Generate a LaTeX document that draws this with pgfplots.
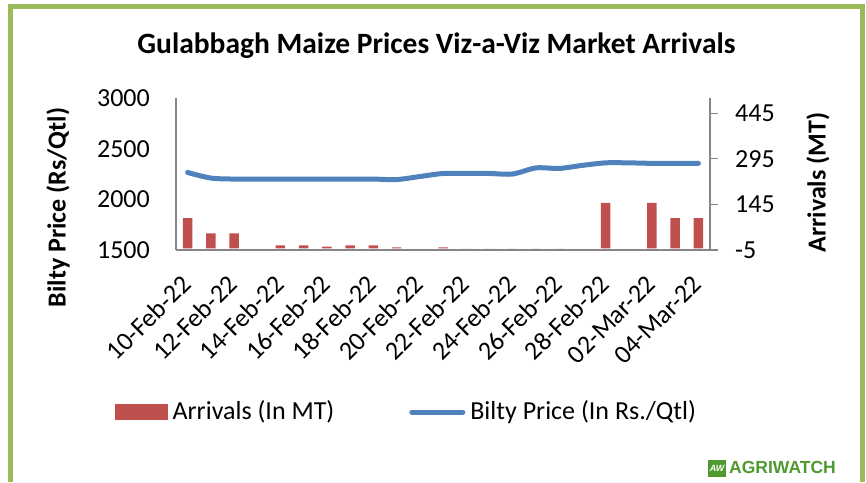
\documentclass[border=0pt]{standalone}
\usepackage{fontspec}
\setmainfont{Carlito}
\newfontfamily\logofont{Liberation Sans}
\usepackage{pgfplots}
\usepackage{pgfplotstable}
\pgfplotsset{compat=1.18}
\definecolor{barred}{HTML}{C0504D}
\definecolor{lineblue}{HTML}{4F81BD}
\definecolor{axisgray}{HTML}{868686}
\definecolor{framegreen}{HTML}{9BBB59}
\definecolor{logogreen}{HTML}{4E9A2E}
\pgfplotstableread{
idx arr
0 100
1 50
2 50
4 10
5 10
6 6
7 10
8 10
9 4
11 4
18 150
20 150
21 100
22 100
}\arrivals
\pgfplotstableread{
idx arr
12 1.5
13 1.5
14 1.5
15 1.5
16 1.5
}\faint
\pgfplotstableread{
idx price
0 2265
1 2210
2 2200
3 2200
4 2200
5 2200
6 2200
7 2200
8 2200
9 2195
10 2225
11 2255
12 2255
13 2255
14 2250
15 2310
16 2305
17 2335
18 2360
19 2360
20 2355
21 2355
22 2355
}\prices
\newcommand\xlabfont{\fontsize{26}{30}\selectfont}
\begin{document}
\begin{tikzpicture}[x=1pt,y=1pt]
\path[use as bounding box] (0,0) rectangle (866,482);
\draw[framegreen, line width=5pt] (10.5,0) -- (10.5,475) -- (862.5,475) -- (862.5,0);
% arrivals (right axis)
\begin{axis}[
  scale only axis, width=534pt, height=152pt,
  at={(176pt,232pt)}, anchor=south west,
  xmin=-0.5, xmax=22.5, ymin=-5, ymax=495,
  axis x line=none, axis y line*=right,
  axis line style={draw=axisgray, line width=1.2pt, -},
  ytick={-5,145,295,445},
  yticklabels={-5,145,295,445},
  tick align=outside, major tick length=8pt,
  ytick style={draw=axisgray, line width=1.2pt},
  yticklabel style={font=\fontsize{26}{30}\selectfont, inner sep=0pt, anchor=west, xshift=17pt},
  /pgf/number format/assume math mode=true,
]
\addplot[ybar, bar shift=0pt, fill=barred, draw=none, bar width=9.5pt] table[x=idx,y=arr]{\arrivals};
\addplot[ybar, bar shift=0pt, fill=barred!25, draw=none, bar width=9.5pt] table[x=idx,y=arr]{\faint};
\end{axis}
% price (left axis)
\begin{axis}[
  scale only axis, width=534pt, height=152pt,
  at={(176pt,232pt)}, anchor=south west,
  xmin=-0.5, xmax=22.5, ymin=1500, ymax=3000,
  axis x line*=bottom, axis y line*=left,
  axis line style={draw=axisgray, line width=1.2pt, -},
  ytick={1500,2000,2500,3000},
  yticklabels={1500,2000,2500,3000},
  xtick={0,2,...,22},
  xticklabels={10-Feb-22,12-Feb-22,14-Feb-22,16-Feb-22,18-Feb-22,20-Feb-22,22-Feb-22,24-Feb-22,26-Feb-22,28-Feb-22,02-Mar-22,04-Mar-22},
  major tick length=0pt,
  tick style={draw=none},
  yticklabel style={font=\fontsize{26}{30}\selectfont, inner sep=0pt, anchor=east, xshift=-26pt},
  every x tick label/.append style={font=\xlabfont, inner sep=0pt, xshift=5pt, yshift=-36pt, rotate=45, anchor=base east},
  /pgf/number format/assume math mode=true,
  legend columns=2,
  legend cell align=left,
  legend style={at={(axis description cs:-0.1142,-1.060)}, anchor=west, draw=none, fill=none, inner sep=0pt,
    font=\fontsize{26}{30}\selectfont, nodes={inner sep=0pt},
    /tikz/every odd column/.append style={column sep=5pt},
    /tikz/every even column/.append style={column sep=75pt}},
]
\addlegendimage{legend image code/.code={\fill[barred] (0pt,-8pt) rectangle (52pt,7pt);}}
\addlegendentry{Arrivals (In MT)}
\addplot[lineblue, line width=5pt, smooth, line cap=round,
  legend image code/.code={\path[draw=none,fill=none] (0pt,-8pt) rectangle (56pt,7pt); \draw[lineblue, line width=5pt, line cap=round] (2.5pt,-1pt) -- (53.5pt,-1pt);}]
  table[x=idx,y=price]{\prices};
\addlegendentry{Bilty Price (In Rs./Qtl)}
\end{axis}
% titles
\node[anchor=base, font=\fontsize{29.5}{34}\selectfont\bfseries, inner sep=0pt] at (436.5,428) {Gulabbagh Maize Prices Viz-a-Viz Market Arrivals};
\node[rotate=90, font=\fontsize{26}{30}\selectfont\bfseries] at (58,274.5) {Bilty Price (Rs/Qtl)};
\node[rotate=90, font=\fontsize{26}{30}\selectfont\bfseries] at (818,299.5) {Arrivals (MT)};
% logo
\fill[logogreen] (708,5) rectangle (726,22);
\node[white, font=\logofont\bfseries\itshape\fontsize{9}{9}\selectfont, inner sep=0pt] at (717,13.5) {AW};
\node[anchor=base west, text=logogreen, font=\logofont\bfseries\fontsize{17.5}{18}\selectfont, inner sep=0pt] at (729,9) {AGRIWATCH};
\end{tikzpicture}
\end{document}
